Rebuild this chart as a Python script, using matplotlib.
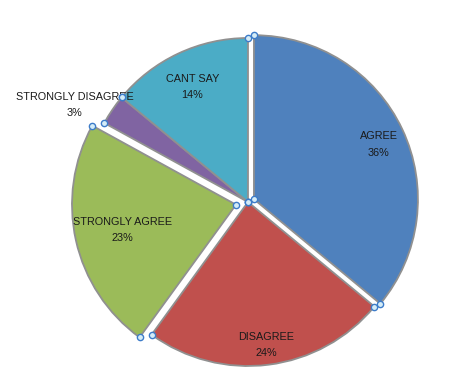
import numpy as np
import matplotlib
matplotlib.use("Agg")
import matplotlib.pyplot as plt

# --- data ---
categories = ["AGREE", "DISAGREE", "STRONGLY AGREE", "STRONGLY DISAGREE", "CANT SAY"]
percents = [36, 24, 23, 3, 14]
colors = ["#4F81BD", "#C0504D", "#9BBB59", "#8064A2", "#4BACC6"]
explode = [0.04, 0.0, 0.075, 0.0, 0.0]      # fraction of radius
label_dist = [0.83, 0.88, 0.71, 1.21, 0.78]  # fraction of radius
label_turn = [-1.5, 0, 0, 5, 0.5]            # degrees, small nudges

plt.rcParams["font.family"] = ["Liberation Sans", "DejaVu Sans"]

fig = plt.figure(figsize=(4.72, 3.83), dpi=100)
ax = fig.add_axes([0, 0, 1, 1])

# pixel-like coordinates: pie centre and radius
cx, cy, R = 248, 383 - 202, 164
# matplotlib's explode is in data units, so scale by the radius
wedges, _ = ax.pie(percents, colors=colors, explode=[e * R for e in explode],
                   startangle=90, counterclock=False, radius=R, center=(cx, cy),
                   wedgeprops=dict(edgecolor="#909090", linewidth=1.3))

hx, hy = [], []
for w, name, pct, d, turn in zip(wedges, categories, percents, label_dist, label_turn):
    mid = np.deg2rad((w.theta1 + w.theta2) / 2 + turn)
    x0, y0 = w.center
    ax.text(x0 + d * w.r * np.cos(mid), y0 + d * w.r * np.sin(mid),
            f"{name}\n{pct}%", ha="center", va="center", fontsize=7.8,
            linespacing=1.8, color="#1a1a1a")
    # Excel-style selection handles at the wedge corners
    for t in (w.theta1, w.theta2):
        hx.append(x0 + w.r * np.cos(np.deg2rad(t)))
        hy.append(y0 + w.r * np.sin(np.deg2rad(t)))
    hx.append(x0)
    hy.append(y0)

ax.plot(hx, hy, "o", ms=4.5, mfc="#d4ecf7", mec="#3d7cc9", mew=1, zorder=5)

ax.set_xlim(0, 472)
ax.set_ylim(0, 383)
ax.set_aspect("equal")
ax.axis("off")

fig.savefig("out.png", dpi=100)
